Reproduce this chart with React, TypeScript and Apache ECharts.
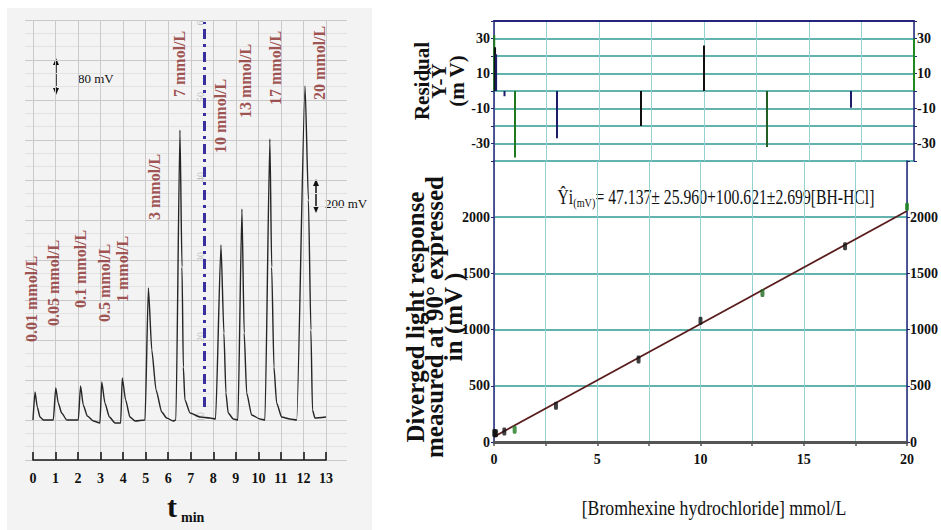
import React, { useEffect, useRef } from "react";
import * as echarts from "echarts";

// ---------- Left panel: recorder trace (time in min, signal in chart units) ----------
const minuteMax = 13;
const traceTimes = [
  0.0, 0.09, 0.19, 0.31, 0.46,
  0.9, 1.01, 1.12, 1.27, 1.5,
  2.01, 2.11, 2.23, 2.41, 2.68, 2.97,
  3.05, 3.19, 3.39, 3.64, 3.89,
  3.96, 4.11, 4.3, 4.53, 4.97,
  5.12, 5.27, 5.46, 5.71, 5.93, 6.22, 6.34,
  6.52, 6.61, 6.67, 6.74, 6.97, 7.41, 7.85, 8.1,
  8.34, 8.47, 8.56, 8.66, 8.89, 9.09,
  9.27, 9.37, 9.48, 9.7, 10.07, 10.29,
  10.51, 10.59, 10.69, 10.81, 11.03, 11.4, 11.7,
  12.07, 12.22, 12.33, 12.4, 12.51, 13.0,
];
const traceSignal = [
  0, 28, 13, 3, 0,
  0, 32, 17, 7, 0,
  0, 34, 15, 4, -1, -3,
  38, 17, 3, -3, -3,
  42, 20, 3, -1, 0,
  132, 70, 30, 8, 2, -1, 0,
  290, 153, 53, 20, 7, 3, 2, 1,
  175, 87, 27, 7, 1, 0,
  211, 87, 27, 5, 1, 0,
  281, 153, 53, 17, 3, 1, 0,
  334, 220, 90, 10, 2, 3,
];
const peakNames = [
  "0.01 mmol/L", "0.05 mmol/L", "0.1 mmol/L", "0.5 mmol/L", "1 mmol/L",
  "3 mmol/L", "7 mmol/L", "10 mmol/L", "13 mmol/L", "17 mmol/L", "20 mmol/L",
];
const peakLabelTimes = [-0.06, 0.9, 2.09, 3.19, 3.99, 5.41, 6.52, 8.34, 9.45, 10.74, 12.73];
const peakLabelLevels = [78, 94, 112, 98, 118, 200, 323, 267, 302, 315, 320];
const injectionSwitchTime = 7.6;
const switchLineSpan = [13, 398];
const paperNumbers = ["6", "50", "40", "30", "20", "10"];

// ---------- Right panel: calibration ----------
const concentrations = [0.01, 0.05, 0.1, 0.5, 1, 3, 7, 10, 13, 17, 20];
const responses = [80, 77, 78, 94, 110, 322, 735, 1078, 1325, 1742, 2092];
const residuals = [32, 25, 21, -3, -38, -27, -20, 26, -32, -9.5, 30];
const fitLineX = [0, 20];
const fitLineY = [47, 2055];
const residualColors = ["#1f7a1f", "#111111", "#1c1c6b", "#1c1c6b", "#1f7a1f", "#1c1c6b", "#111111", "#111111", "#225f22", "#1c1c6b", "#1f8a1f"];
const pointColors = ["#111", "#111", "#111", "#111", "#1f7a1f", "#111", "#111", "#111", "#1f6a1f", "#111", "#1f8a1f"];

const SERIF = "'Liberation Serif', 'Times New Roman', serif";

export default function App() {
  const ref = useRef<HTMLDivElement>(null);

  useEffect(() => {
    if (!ref.current) return;
    const chart = echarts.init(ref.current, null, { renderer: "svg" });
    const navy = "#24247a";
    const tealH = "#62b3ae";
    const tealV = "#93d2d0";
    const tickFont = { fontFamily: SERIF, fontWeight: "bold" as const, fontSize: 14, color: "#111" };

    const arrow = (x: number, y1: number, y2: number) => [
      { type: "line", shape: { x1: x, y1: y1 + 5, x2: x, y2: y2 - 5 }, style: { stroke: "#111", lineWidth: 1.5 }, silent: true },
      { type: "polygon", shape: { points: [[x, y1], [x - 3, y1 + 7], [x + 3, y1 + 7]] }, style: { fill: "#111" }, silent: true },
      { type: "polygon", shape: { points: [[x, y2], [x - 3, y2 - 7], [x + 3, y2 - 7]] }, style: { fill: "#111" }, silent: true },
    ];

    const paperNumY = [23, 97, 177, 257, 337, 417];

    const option: any = {
      animation: false,
      backgroundColor: "#ffffff",
      grid: [
        { left: 25, top: 20, width: 322, height: 440 },
        { left: 33, top: 20, width: 293, height: 440 },
        { left: 494, top: 21, width: 420, height: 140 },
        { left: 494, top: 161, width: 420, height: 281 },
      ],
      xAxis: [
        { gridIndex: 0, type: "value", min: 0, max: 1, show: false },
        {
          gridIndex: 1, type: "value", min: 0, max: minuteMax, interval: 1,
          axisLine: { show: true, onZero: false, lineStyle: { color: "#1a1a1a", width: 1.6 } },
          axisTick: { show: true, inside: true, length: 8, lineStyle: { color: "#1a1a1a", width: 1.6 } },
          axisLabel: { ...tickFont, fontSize: 14, margin: 11 },
          splitLine: { show: true, lineStyle: { color: "#cacaca", width: 1 } },
        },
        {
          gridIndex: 2, type: "value", min: 0, max: 20, interval: 2.5, position: "top",
          axisLine: { show: true, onZero: false, lineStyle: { color: navy, width: 2 } },
          axisTick: { show: false }, axisLabel: { show: false },
          splitLine: { show: true, lineStyle: { color: tealV, width: 1 } },
        },
        {
          gridIndex: 3, type: "value", min: 0, max: 20, interval: 2.5, position: "bottom",
          axisLine: { show: true, onZero: false, lineStyle: { color: "#555", width: 3 } },
          axisTick: { show: true, length: 4, lineStyle: { color: "#555", width: 1.5 } },
          axisLabel: { ...tickFont, margin: 10, formatter: (v: number) => (v % 5 === 0 ? String(v) : "") },
          splitLine: { show: true, lineStyle: { color: tealV, width: 1 } },
        },
      ],
      yAxis: [
        {
          gridIndex: 0, type: "value", min: -40, max: 400, interval: 40,
          axisLine: { show: false }, axisTick: { show: false }, axisLabel: { show: false },
          splitLine: { show: true, lineStyle: { color: "#c9c9c9", width: 1 } },
          minorTick: { show: false, splitNumber: 3 },
          minorSplitLine: { show: true, lineStyle: { color: "#e2e2e2", width: 1 } },
        },
        { gridIndex: 1, type: "value", min: -40, max: 400, show: false },
        {
          gridIndex: 2, type: "value", min: -40, max: 40, interval: 10, position: "left",
          axisLine: { show: true, onZero: false, lineStyle: { color: navy, width: 1.5 } },
          axisTick: { show: true, length: 3, lineStyle: { color: navy } },
          axisLabel: { ...tickFont, margin: 4, formatter: (v: number) => (Math.abs(v) % 20 === 10 ? String(v) : "") },
          splitLine: { show: true, lineStyle: { color: tealH, width: 2 } },
        },
        {
          gridIndex: 2, type: "value", min: -40, max: 40, interval: 10, position: "right",
          axisLine: { show: true, onZero: false, lineStyle: { color: navy, width: 1.5 } },
          axisTick: { show: true, length: 3, lineStyle: { color: navy } },
          axisLabel: { ...tickFont, margin: 3, formatter: (v: number) => (Math.abs(v) % 20 === 10 ? String(v) : "") },
          splitLine: { show: false },
        },
        {
          gridIndex: 3, type: "value", min: 0, max: 2500, interval: 500, position: "left",
          axisLine: { show: true, onZero: false, lineStyle: { color: navy, width: 1.5 } },
          axisTick: { show: true, length: 3, lineStyle: { color: navy } },
          axisLabel: { ...tickFont, margin: 4, formatter: (v: number) => (v < 2500 ? String(v) : "") },
          splitLine: { show: true, lineStyle: { color: tealH, width: 2 } },
        },
        {
          gridIndex: 3, type: "value", min: 0, max: 2500, interval: 500, position: "right",
          axisLine: { show: true, onZero: false, lineStyle: { color: navy, width: 1.5 } },
          axisTick: { show: true, length: 3, lineStyle: { color: navy } },
          axisLabel: { ...tickFont, margin: 3, formatter: (v: number) => (v < 2500 ? String(v) : "") },
          splitLine: { show: false },
        },
      ],
      series: [
        {
          type: "line", name: "trace", xAxisIndex: 1, yAxisIndex: 1,
          data: traceTimes.map((t, i) => [t, traceSignal[i]]),
          symbol: "none", showSymbol: false, smooth: 0.2, smoothMonotone: "x",
          lineStyle: { color: "#262626", width: 1.4 },
          markLine: {
            silent: true, symbol: ["none", "none"], label: { show: false },
            lineStyle: { color: "#3a2f9e", width: 3, type: [10, 5, 3, 5] },
            data: [[{ coord: [injectionSwitchTime, switchLineSpan[0]] }, { coord: [injectionSwitchTime, switchLineSpan[1]] }]],
          },
        },
        {
          type: "scatter", name: "labels", xAxisIndex: 1, yAxisIndex: 1, symbolSize: 0, clip: false, silent: true,
          data: peakNames.map((n, i) => ({ name: n, value: [peakLabelTimes[i], peakLabelLevels[i]] })),
          label: {
            show: true, formatter: "{b}", position: [0, 0], rotate: 90, align: "left", verticalAlign: "middle",
            fontFamily: SERIF, fontWeight: "bold", fontSize: 16, color: "#8a2a2a",
          },
        },
        {
          type: "bar", name: "residual", xAxisIndex: 2, yAxisIndex: 2, barWidth: 2, clip: false,
          data: concentrations.map((c, i) => ({ value: [c, residuals[i]], itemStyle: { color: residualColors[i] } })),
        },
        {
          type: "line", name: "fit", xAxisIndex: 3, yAxisIndex: 4,
          data: fitLineX.map((x, i) => [x, fitLineY[i]]),
          symbol: "none", lineStyle: { color: "#5a1d1d", width: 1.8 }, z: 3,
        },
        {
          type: "scatter", name: "response", xAxisIndex: 3, yAxisIndex: 4, symbol: "roundRect", symbolSize: [4, 8], clip: false, z: 4,
          data: concentrations.map((c, i) => ({ value: [c, responses[i]], itemStyle: { color: pointColors[i] } })),
        },
      ],
      graphic: [
        { type: "rect", z: -100, silent: true, shape: { x: 7, y: 8, width: 365, height: 522 }, style: { fill: "#f3f3f3" } },
        ...arrow(56, 58, 95),
        ...arrow(316, 179, 213),
        { type: "text", x: 78, y: 78, silent: true, style: { text: "80 mV", fontSize: 13, fontFamily: SERIF, fill: "#111", align: "left", verticalAlign: "middle" } },
        { type: "text", x: 325, y: 203, silent: true, style: { text: "200 mV", fontSize: 13, fontFamily: SERIF, fill: "#111", align: "left", verticalAlign: "middle" } },
        { type: "text", x: 172, y: 506, silent: true, style: { text: "t", fontSize: 30, fontWeight: "bold", fontFamily: SERIF, fill: "#111", align: "center", verticalAlign: "middle" } },
        { type: "text", x: 181, y: 517, silent: true, style: { text: "min", fontSize: 14, fontWeight: "bold", fontFamily: SERIF, fill: "#111", align: "left", verticalAlign: "middle" } },
        ...paperNumbers.map((s, i) => ({
          type: "text", x: 200, y: paperNumY[i], rotation: Math.PI / 2, silent: true,
          style: { text: s, fontSize: 10, fontFamily: SERIF, fill: "#bcbcbc", align: "center", verticalAlign: "middle" },
        })),
        {
          type: "text", x: 716, y: 197, scaleX: 0.785, silent: true,
          style: {
            text: "{a|Ŷi}{b|(mV)}{a|= 47.137± 25.960+100.621±2.699[BH-HCl]}",
            align: "center", verticalAlign: "middle", fill: "#111",
            rich: {
              a: { fontSize: 20, fontFamily: SERIF, fill: "#111", lineHeight: 26 },
              b: { fontSize: 13, fontFamily: SERIF, fill: "#111", lineHeight: 26, verticalAlign: "bottom" },
            },
          },
        },
        {
          type: "text", x: 714, y: 507, scaleX: 0.805, silent: true,
          style: { text: "[Bromhexine hydrochloride] mmol/L", fontSize: 22, fontFamily: SERIF, fill: "#111", align: "center", verticalAlign: "middle" },
        },
        {
          type: "text", x: 434, y: 317, rotation: Math.PI / 2, silent: true,
          style: {
            text: "Diverged light response\nmeasured at 90° expressed\nin (mV )",
            fontSize: 25, fontWeight: "bold", fontFamily: SERIF, lineHeight: 19, fill: "#111", align: "center", verticalAlign: "middle",
          },
        },
        {
          type: "text", x: 439, y: 81, rotation: Math.PI / 2, silent: true,
          style: {
            text: "Residual\nY-Ŷ\n(m V)",
            fontSize: 21, fontWeight: "bold", fontFamily: SERIF, lineHeight: 17.5, fill: "#111", align: "center", verticalAlign: "middle",
          },
        },
      ],
    };

    chart.setOption(option);
    return () => chart.dispose();
  }, []);

  return <div ref={ref} style={{ position: "absolute", left: 0, top: 0, width: 941, height: 530 }} />;
}
